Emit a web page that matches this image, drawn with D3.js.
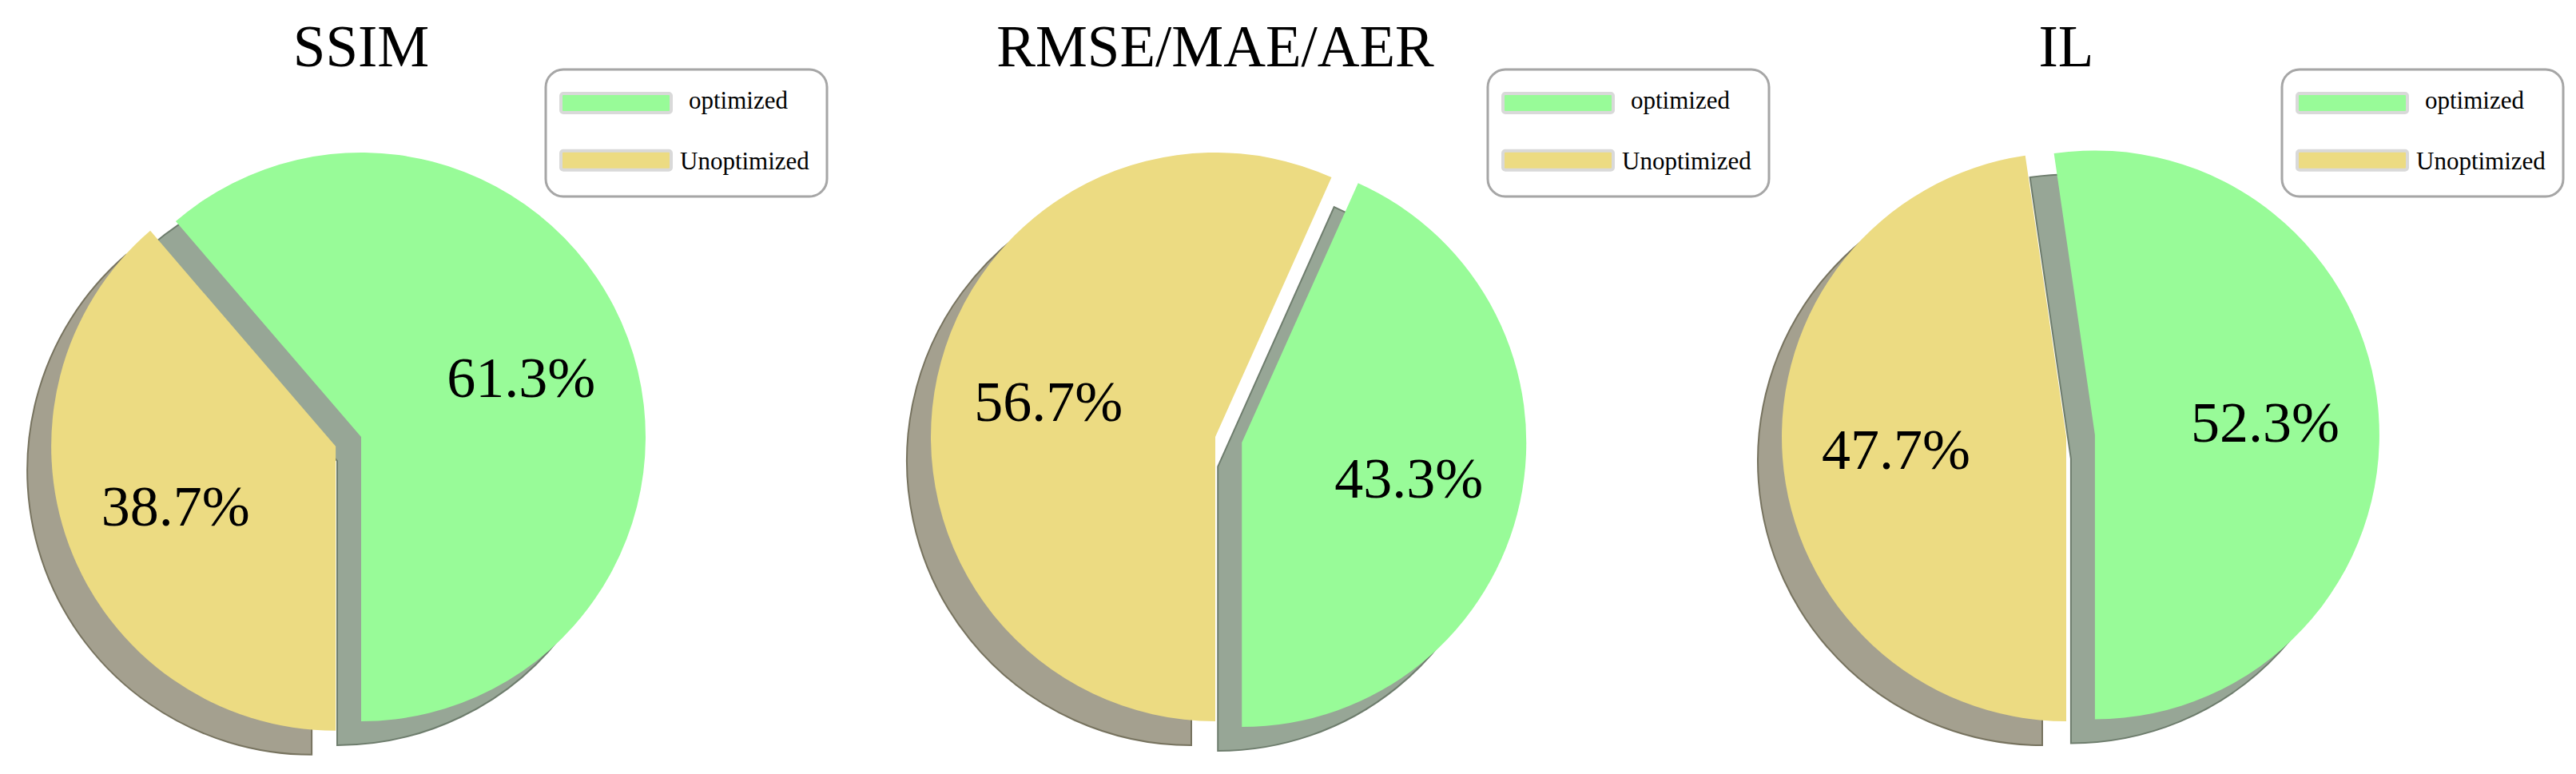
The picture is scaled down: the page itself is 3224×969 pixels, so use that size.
<!DOCTYPE html>
<html>
<head>
<meta charset="utf-8">
<script src="https://cdn.jsdelivr.net/npm/d3@7/dist/d3.min.js"></script>
<style>
  html, body { margin: 0; padding: 0; background: #ffffff; }
  svg { display: block; }
</style>
</head>
<body>
<div id="chart"></div>
<script>
// ---------------- data ----------------
const titles = ["SSIM", "RMSE/MAE/AER", "IL"];
const categories = ["Unoptimized", "optimized"];
const unoptimizedPct = [38.7, 56.7, 47.7];
const optimizedPct = [61.3, 43.3, 52.3];
const legendLabels = ["optimized", "Unoptimized"];
const explodedCategory = ["Unoptimized", "optimized", "optimized"];

// ---------------- layout / style ----------------
const W = 3224, H = 969;
const pieCX = [452, 1521, 2586];
const pieCY = 547;
const radius = 356;
const explodeDist = [34, 34, 36];
const shadowDX = -30, shadowDY = 30;
const labelRatio = 0.6;
const legendX = [683, 1862, 2856];
const legendY = 87, legendW = 352, legendH = 159;
const titleBaseline = 83;

const fillColor = d3.scaleOrdinal().domain(categories).range(["#ECDB82", "#98FB98"]);
const shadowColor = d3.scaleOrdinal().domain(categories).range(["#A4A08F", "#97A696"]);
const shadowStroke = d3.scaleOrdinal().domain(categories).range(["#77735F", "#6E7D6D"]);

const FONT = "'Liberation Serif', 'Times New Roman', Times, serif";

const svg = d3.select("#chart").append("svg")
  .attr("width", W).attr("height", H)
  .attr("viewBox", `0 0 ${W} ${H}`);

svg.append("rect").attr("width", W).attr("height", H).attr("fill", "#ffffff");

const pie = d3.pie()
  .sort(null)
  .value(d => d.value)
  .startAngle(Math.PI)
  .endAngle(3 * Math.PI);

const arc = d3.arc().innerRadius(0).outerRadius(radius);

titles.forEach((title, i) => {
  const data = [
    { cat: "Unoptimized", value: unoptimizedPct[i] },
    { cat: "optimized", value: optimizedPct[i] }
  ];
  const arcs = pie(data);
  arcs.forEach(a => {
    const mid = (a.startAngle + a.endAngle) / 2;
    const dir = [Math.sin(mid), -Math.cos(mid)];
    const e = a.data.cat === explodedCategory[i] ? explodeDist[i] : 0;
    a.ox = dir[0] * e;
    a.oy = dir[1] * e;
    a.dir = dir;
  });

  const g = svg.append("g").attr("transform", `translate(${pieCX[i]},${pieCY})`);

  // shadows
  g.selectAll("path.shadow").data(arcs).enter().append("path")
    .attr("class", "shadow")
    .attr("d", arc)
    .attr("transform", d => `translate(${d.ox + shadowDX},${d.oy + shadowDY})`)
    .attr("fill", d => shadowColor(d.data.cat))
    .attr("stroke", d => shadowStroke(d.data.cat))
    .attr("stroke-width", 2)
    .attr("stroke-linejoin", "miter");

  // slices
  g.selectAll("path.slice").data(arcs).enter().append("path")
    .attr("class", "slice")
    .attr("d", arc)
    .attr("transform", d => `translate(${d.ox},${d.oy})`)
    .attr("fill", d => fillColor(d.data.cat));

  // labels
  g.selectAll("text.lbl").data(arcs).enter().append("text")
    .attr("class", "lbl")
    .attr("x", d => d.ox + d.dir[0] * radius * labelRatio)
    .attr("y", d => d.oy + d.dir[1] * radius * labelRatio)
    .attr("dy", "0.34em")
    .attr("text-anchor", "middle")
    .attr("font-family", FONT)
    .attr("font-size", 72)
    .attr("fill", "#000")
    .text(d => d.data.value.toFixed(1) + "%");

  // title
  svg.append("text")
    .attr("x", pieCX[i])
    .attr("y", titleBaseline)
    .attr("text-anchor", "middle")
    .attr("font-family", FONT)
    .attr("font-size", 73)
    .attr("fill", "#000")
    .text(title);

  // legend
  const lg = svg.append("g").attr("transform", `translate(${legendX[i]},${legendY})`);
  lg.append("rect")
    .attr("x", 0).attr("y", 0)
    .attr("width", legendW).attr("height", legendH)
    .attr("rx", 22).attr("ry", 22)
    .attr("fill", "#fff")
    .attr("stroke", "#A6A6A6")
    .attr("stroke-width", 3);
  const rowY = [30, 101.7];
  const textX = [179, 168];
  const textBase = [49, 125];
  legendLabels.forEach((lab, k) => {
    lg.append("rect")
      .attr("x", 19).attr("y", rowY[k])
      .attr("width", 138).attr("height", 24)
      .attr("rx", 3).attr("ry", 3)
      .attr("fill", fillColor(lab))
      .attr("stroke", "#D9D9D9")
      .attr("stroke-width", 4);
    lg.append("text")
      .attr("x", textX[k]).attr("y", textBase[k])
      .attr("font-family", FONT)
      .attr("font-size", 31)
      .attr("fill", "#000")
      .text(lab);
  });
});
</script>
</body>
</html>
